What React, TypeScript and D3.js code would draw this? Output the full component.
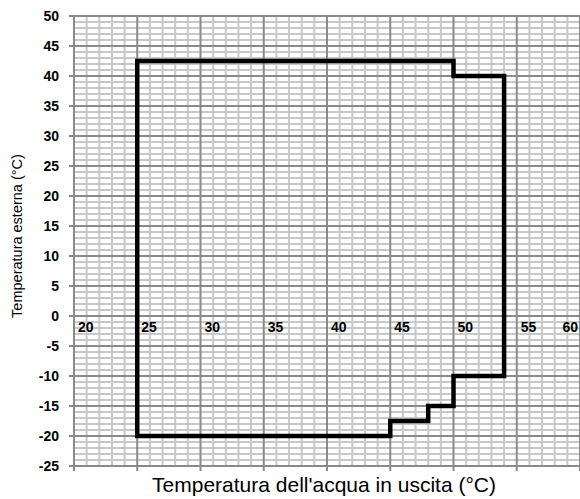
import React, { useEffect, useRef } from "react"
import * as d3 from "d3"

// envelope of the operating range (water out temp, outdoor temp)
const waterOut = [25, 50, 50, 54, 54, 50, 50, 48, 48, 45, 45, 25, 25]
const outdoor = [42.5, 42.5, 40, 40, -10, -10, -15, -15, -17.5, -17.5, -20, -20, 42.5]

const xTicks = [20, 25, 30, 35, 40, 45, 50, 55, 60]
const yTicks = [50, 45, 40, 35, 30, 25, 20, 15, 10, 5, 0, -5, -10, -15, -20, -25]

const W = 580
const H = 499

export default function App() {
    const ref = useRef<SVGSVGElement>(null)

    useEffect(() => {
        const svg = d3.select(ref.current)
        svg.selectAll("*").remove()

        const x = d3.scaleLinear().domain([20, 60]).range([74, 580])
        const y = d3.scaleLinear().domain([50, -25]).range([16, 466])
        const font = "'Liberation Sans', Arial, sans-serif"

        const g = svg.append("g")

        // minor grid
        const minorX = d3.range(20, 61, 1).filter(v => v % 5 !== 0)
        const minorY = d3.range(-25, 51, 1).filter(v => v % 5 !== 0)
        g.selectAll(".mx")
            .data(minorX)
            .enter()
            .append("line")
            .attr("x1", d => x(d))
            .attr("x2", d => x(d))
            .attr("y1", y(50))
            .attr("y2", y(-25))
            .attr("stroke", "#c8c8c8")
            .attr("stroke-width", 2)
        g.selectAll(".my")
            .data(minorY)
            .enter()
            .append("line")
            .attr("x1", x(20))
            .attr("x2", x(60))
            .attr("y1", d => y(d))
            .attr("y2", d => y(d))
            .attr("stroke", "#c8c8c8")
            .attr("stroke-width", 2)

        // major grid
        g.selectAll(".Mx")
            .data(xTicks)
            .enter()
            .append("line")
            .attr("x1", d => x(d))
            .attr("x2", d => x(d))
            .attr("y1", y(50))
            .attr("y2", y(-25) + 5)
            .attr("stroke", "#8a8a8a")
            .attr("stroke-width", 2)
        g.selectAll(".My")
            .data(yTicks)
            .enter()
            .append("line")
            .attr("x1", x(20) - 5)
            .attr("x2", x(60))
            .attr("y1", d => y(d))
            .attr("y2", d => y(d))
            .attr("stroke", "#8a8a8a")
            .attr("stroke-width", 2)

        // y labels
        g.selectAll(".yl")
            .data(yTicks)
            .enter()
            .append("text")
            .attr("x", 59)
            .attr("y", d => y(d))
            .attr("dy", "0.35em")
            .attr("text-anchor", "end")
            .attr("font-family", font)
            .attr("font-weight", "bold")
            .attr("font-size", 14)
            .attr("fill", "#000")
            .text(d => d)

        // x labels, inside the plot below zero line (last one pulled in to fit)
        g.selectAll(".xl")
            .data(xTicks)
            .enter()
            .append("text")
            .attr("x", d => (d === 60 ? 578 : x(d) + 4))
            .attr("y", y(0) + 16)
            .attr("text-anchor", d => (d === 60 ? "end" : "start"))
            .attr("font-family", font)
            .attr("font-weight", "bold")
            .attr("font-size", 14)
            .attr("fill", "#000")
            .text(d => d)

        // envelope
        const pts = waterOut.map((v, i) => [v, outdoor[i]] as [number, number])
        const line = d3.line<[number, number]>().x(d => x(d[0])).y(d => y(d[1]))
        g.append("path")
            .attr("d", line(pts) + "Z")
            .attr("fill", "none")
            .attr("stroke", "#000")
            .attr("stroke-width", 4.5)
            .attr("stroke-linejoin", "miter")

        // titles
        svg.append("text")
            .attr("x", 324)
            .attr("y", 492)
            .attr("text-anchor", "middle")
            .attr("font-family", font)
            .attr("font-size", 21)
            .attr("fill", "#000")
            .text("Temperatura dell'acqua in uscita (°C)")
        svg.append("text")
            .attr("transform", `translate(22,${y(12.5) - 5}) rotate(-90)`)
            .attr("text-anchor", "middle")
            .attr("font-family", font)
            .attr("font-size", 14.5)
            .attr("fill", "#000")
            .text("Temperatura esterna (°C)")
    }, [])

    return (
        <svg
            ref={ref}
            width={W}
            height={H}
            style={{ position: "absolute", left: 0, top: 0, background: "#fff" }}
        />
    )
}
